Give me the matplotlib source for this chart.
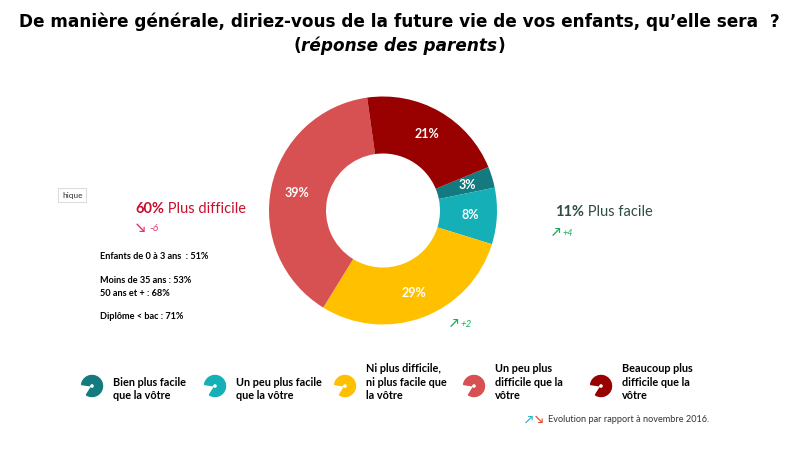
import matplotlib
matplotlib.use("Agg")
import matplotlib.pyplot as plt
from matplotlib.patches import Wedge

# données
categories = ["Bien plus facile\nque la vôtre",
              "Un peu plus facile\nque la vôtre",
              "Ni plus difficile,\nni plus facile que\nla vôtre",
              "Un peu plus\ndifficile que la\nvôtre",
              "Beaucoup plus\ndifficile que la\nvôtre"]
values = [3, 8, 29, 39, 21]
colors = ["#137b80", "#15afb7", "#ffc000", "#d75052", "#990000"]

sub_labels = ["Enfants de 0 à 3 ans  : 51%", "Moins de 35 ans : 53%",
              "50 ans et + : 68%", "Diplôme < bac : 71%"]

BODY = ["Lato", "DejaVu Sans"]
TITLE = ["DejaVu Sans"]

fig = plt.figure(figsize=(8.03, 4.61), dpi=100)

# donut
ax = fig.add_axes([269 / 803, (461 - 210.5 - 114) / 461, 228 / 803, 228 / 461])
wedges, texts, autotexts = ax.pie(
    values, colors=colors, startangle=22.4, counterclock=False,
    autopct="%d%%", pctdistance=0.77,
    wedgeprops=dict(width=0.5, edgecolor="none"),
    textprops=dict(color="white", fontweight="bold", fontsize=9, family=BODY))
ax.set_xlim(-1, 1)
ax.set_ylim(-1, 1)
ax.axis("off")

# calque en pixels pour les textes
ov = fig.add_axes([0, 0, 1, 1], zorder=5)
ov.set_xlim(0, 803)
ov.set_ylim(461, 0)
ov.axis("off")
ov.patch.set_alpha(0)

r = fig.canvas.get_renderer()


def runs(x, y, parts, **kw):
    # parts = [(texte, props)], écrits les uns après les autres
    for s, p in parts:
        t = ov.text(x, y, s, va="center", ha="left", **kw, **p)
        bb = t.get_window_extent(renderer=r)
        x += bb.width


# titre, mis à la largeur du modèle
t = ov.text(399, 22, "De manière générale, diriez-vous de la future vie de vos enfants, qu’elle sera  ?",
            ha="center", va="center", fontsize=12, fontweight="bold", family=TITLE)
w = t.get_window_extent(renderer=r).width
tsize = 12 * 758 / w
t.set_fontsize(tsize)
t = ov.text(399, 46, "réponse des parents", ha="center", va="center", fontsize=tsize,
            fontweight="bold", style="italic", family=TITLE)
bb = t.get_window_extent(renderer=r)
ov.text(399 - bb.width / 2, 46, "(", ha="right", va="center", fontsize=tsize,
        fontweight="bold", family=TITLE)
ov.text(399 + bb.width / 2 + 1, 46, ")", ha="left", va="center", fontsize=tsize,
        fontweight="bold", family=TITLE)

# gauche
runs(135, 209, [("60%", dict(fontweight="bold")), (" Plus difficile", {})],
     fontsize=10.5, color="#c8102e", family=BODY)
ov.text(136, 228, "↘", ha="left", va="center", fontsize=9, color="#e8336e",
        fontweight="bold", family=BODY)
ov.text(149, 228, "-6", ha="left", va="center", fontsize=7.5, color="#e8336e",
        style="italic", family=BODY)
for s, y in zip(sub_labels, [256, 280, 293, 316]):
    ov.text(100, y, s, ha="left", va="center", fontsize=6.6, fontweight="bold",
            color="black", family=BODY)

ov.text(62, 195, "hique", ha="left", va="center", fontsize=6, color="#333333",
        family=BODY, bbox=dict(boxstyle="square,pad=0.45", fc="white", ec="#dcdcdc", lw=0.8))

# droite
runs(555, 212, [("11%", dict(fontweight="bold")), (" Plus facile", {})],
     fontsize=10.5, color="#2e4f40", family=BODY)
ov.text(552, 232, "↗", ha="left", va="center", fontsize=8.5, color="#1fae55",
        fontweight="bold", family=BODY)
ov.text(563, 233, "+4", ha="left", va="center", fontsize=6.5, color="#1fae55",
        style="italic", family=BODY)
ov.text(450, 323, "↗", ha="left", va="center", fontsize=8.5, color="#1fae55",
        fontweight="bold", family=BODY)
ov.text(461, 324, "+2", ha="left", va="center", fontsize=7, color="#1fae55",
        style="italic", family=BODY)

# légende (petits crochets)
leg_x = [113, 236, 366, 495, 622]
leg_y = [389, 389, 382, 382, 382]
for lx, ly, c, lab in zip(leg_x, leg_y, colors, categories):
    ov.add_patch(Wedge((lx - 21, 386), 10.5, -172, 122, width=8, color=c, zorder=6))
    ov.text(lx, ly, lab, ha="left", va="center", fontsize=7.8, fontweight="bold",
            color="black", family=BODY, linespacing=1.3)

ov.text(525, 419, "↗", ha="left", va="center", fontsize=8, color="#2bb3c8",
        fontweight="bold", family=BODY)
ov.text(535, 419, "↘", ha="left", va="center", fontsize=8, color="#e0482a",
        fontweight="bold", family=BODY)
ov.text(548, 419, "Evolution par rapport à novembre 2016.", ha="left", va="center",
        fontsize=6.6, color="#333333", family=BODY)

fig.savefig("out.png", dpi=100)
